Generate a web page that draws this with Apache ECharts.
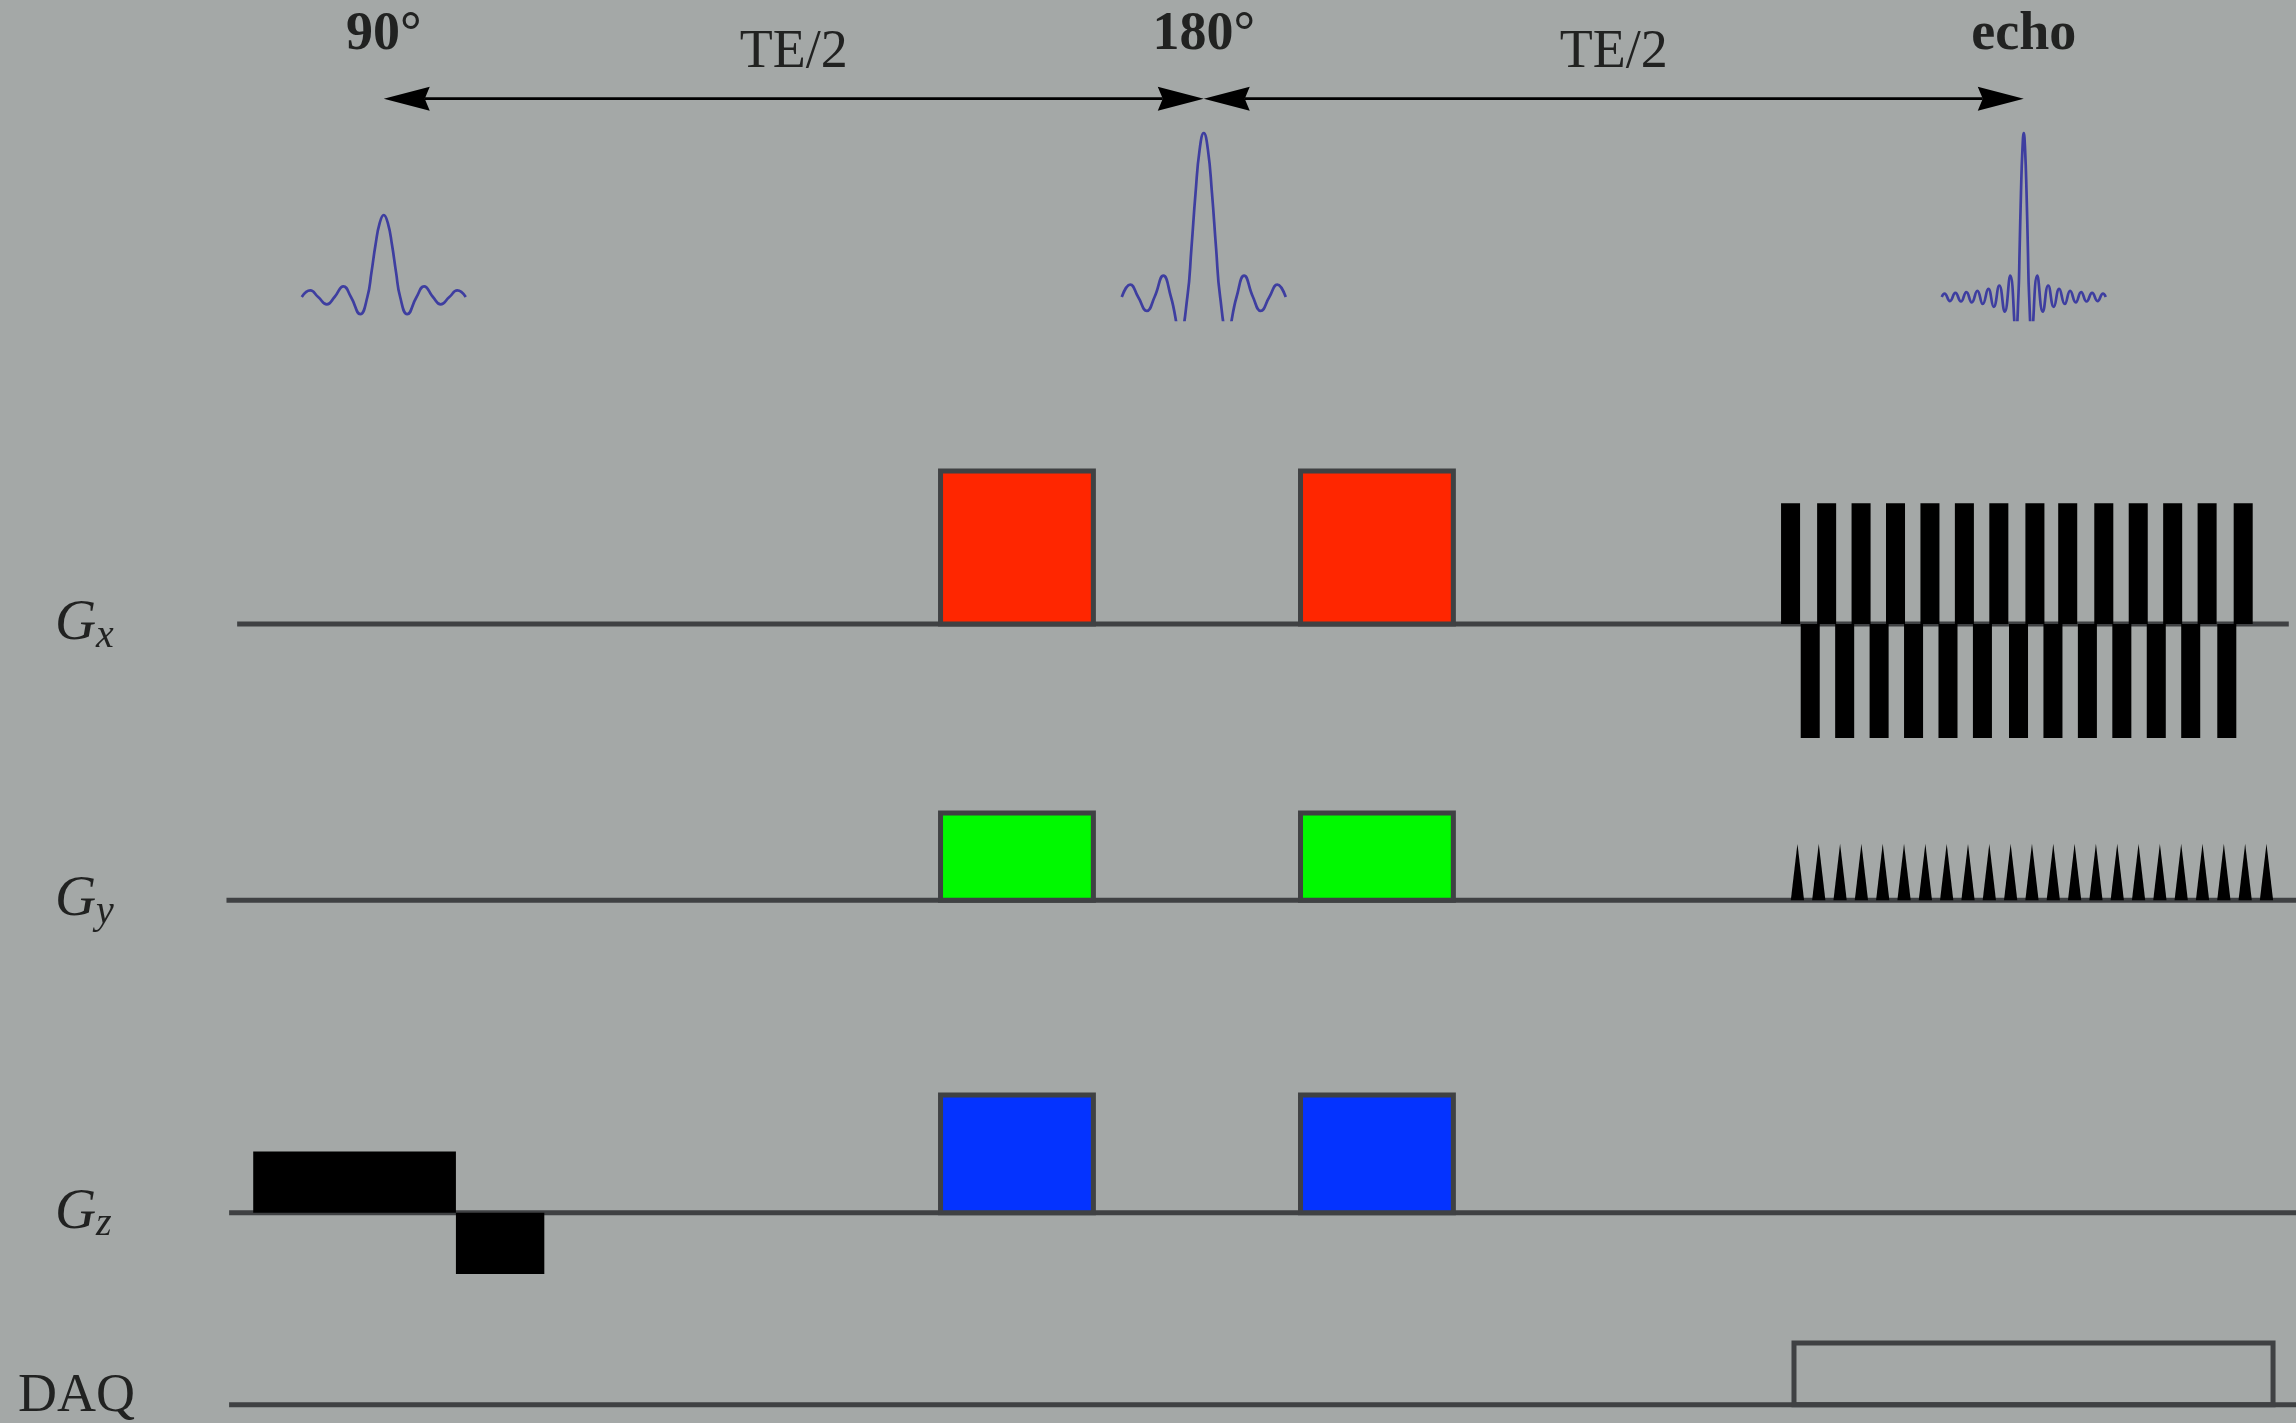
<!DOCTYPE html>
<html>
<head>
<meta charset="utf-8">
<script src="https://cdn.jsdelivr.net/npm/echarts@6/dist/echarts.min.js"></script>
<style>
  html, body { margin: 0; padding: 0; background: #a4a8a7; }
  #chart { width: 2296px; height: 1423px; }
</style>
</head>
<body>
<div id="chart"></div>
<script>
// Spin-echo EPI pulse sequence. Time axis in ms, 90° excitation at t = 0.
// Gradient amplitudes are relative (prephasing lobe = 1).

// ---- RF row ----
const pulseCenters = [0, 50, 100];
const pulseTitles = ['90°', '180°', 'echo'];
const intervalLabelTimes = [25, 75];
const intervalLabel = 'TE/2';
const timingArrows = [[0, 50], [50, 100]];

// waveform samples, time relative to pulse centre
const rf90Shape = [
  [-5.0, 0], [-4.48, 0.08], [-4.0, 0], [-3.47, -0.09], [-3.0, 0], [-2.46, 0.13], [-2.0, 0],
  [-1.43, -0.21], [-1.0, 0], [-0.75, 0.3], [-0.5, 0.64], [-0.25, 0.9], [0, 1.0],
  [0.25, 0.9], [0.5, 0.64], [0.75, 0.3], [1.0, 0], [1.43, -0.21], [2.0, 0], [2.46, 0.13],
  [3.0, 0], [3.47, -0.09], [4.0, 0], [4.48, 0.08], [5.0, 0]
];
const rf180Shape = [
  [-5.0, 0], [-4.48, 0.15], [-4.0, 0], [-3.47, -0.17], [-3.0, 0], [-2.46, 0.26], [-2.0, 0],
  [-1.43, -0.43], [-1.0, 0], [-0.75, 0.6], [-0.5, 1.27], [-0.25, 1.8], [0, 2.0],
  [0.25, 1.8], [0.5, 1.27], [0.75, 0.6], [1.0, 0], [1.43, -0.43], [2.0, 0], [2.46, 0.26],
  [3.0, 0], [3.47, -0.17], [4.0, 0], [4.48, 0.15], [5.0, 0]
];
const echoShape = [
  [-5.0, 0], [-4.83, 0.04], [-4.5, -0.05], [-4.17, 0.05], [-3.83, -0.055], [-3.5, 0.06],
  [-3.17, -0.065], [-2.83, 0.075], [-2.5, -0.085], [-2.16, 0.1], [-1.83, -0.12], [-1.49, 0.14],
  [-1.16, -0.18], [-0.82, 0.26], [-0.48, -0.43], [-0.33, 0], [-0.25, 0.6], [-0.17, 1.27],
  [-0.08, 1.8], [0, 2.0], [0.08, 1.8], [0.17, 1.27], [0.25, 0.6], [0.33, 0], [0.48, -0.43],
  [0.82, 0.26], [1.16, -0.18], [1.49, 0.14], [1.83, -0.12], [2.16, 0.1], [2.5, -0.085],
  [2.83, 0.075], [3.17, -0.065], [3.5, 0.06], [3.83, -0.055], [4.17, 0.05], [4.5, -0.05],
  [4.83, 0.04], [5.0, 0]
];

// ---- gradient rows: [start, end, amplitude] ----
const crusherTimes = [[33.95, 43.27], [55.9, 65.22]];
const gxCrusherAmp = 1.0;
const gyCrusherAmp = 0.57;
const gzCrusherAmp = 0.77;

const sliceSelect = [[-7.96, 4.4, 0.4], [4.4, 9.79, -0.4]];

const readoutPosStarts = [85.2, 87.4, 89.5, 91.6, 93.7, 95.8, 97.9, 100.1, 102.1, 104.3, 106.4, 108.5, 110.6, 112.8];
const readoutNegStarts = [86.4, 88.5, 90.6, 92.7, 94.8, 96.9, 99.1, 101.2, 103.3, 105.4, 107.5, 109.6, 111.8];
const readoutLobeDuration = 1.16;
const readoutPosAmp = 0.79;
const readoutNegAmp = -0.745;

const blipCenters = [86.2, 87.5, 88.8, 90.1, 91.4, 92.7, 94.0, 95.3, 96.6, 97.9, 99.2, 100.5,
  101.8, 103.1, 104.4, 105.7, 107.0, 108.3, 109.6, 110.9, 112.2, 113.5, 114.8];
const blipDuration = 0.81;
const blipAmp = 0.37;

const daqWindow = [85.99, 115.2, 1];

// baseline extents per row [start, end]
const baselines = {
  gx: [-8.94, 116.16],
  gy: [-9.59, 116.6],
  gz: [-9.43, 116.6],
  daq: [-9.43, 116.6]
};

// row titles: gradient symbol and its subscript
const gradientRowGrids = [1, 2, 3];
const gradientSymbol = 'G';
const gradientSubscripts = ['x', 'y', 'z'];
const symbolTime = -20.05;
const subscriptTime = -17.55;
const daqTitle = 'DAQ';
const daqTitleTime = -22.3;

// ---- layout ----
const T_MIN = -23.4, T_MAX = 116.6;
const LINE_COLOR = '#3f4143';
const SERIF = '"Liberation Serif", "DejaVu Serif", serif';

// place a grid so that value 0 lands on a given pixel row
function rowGrid(zeroPx, pxPerUnit, min, max) {
  return { left: 0, right: 0, top: zeroPx - max * pxPerUnit, height: (max - min) * pxPerUnit };
}
const rows = [
  { g: rowGrid(297, 82, -0.28, 3.6), min: -0.28, max: 3.6 },
  { g: rowGrid(624, 153, -0.9, 1.2), min: -0.9, max: 1.2 },
  { g: rowGrid(900.3, 153, -0.3, 0.8), min: -0.3, max: 0.8 },
  { g: rowGrid(1212.7, 153, -0.6, 0.9), min: -0.6, max: 0.9 },
  { g: rowGrid(1404.7, 61.7, -0.2, 1.3), min: -0.2, max: 1.3 }
];

const TITLE_LEVEL = 3.2;
const INTERVAL_LEVEL = 2.976;
const ARROW_LEVEL = 2.418;

function rectRender(fill, stroke, lineWidth) {
  return function (params, api) {
    const a = api.coord([api.value(0), 0]);
    const b = api.coord([api.value(1), api.value(2)]);
    return {
      type: 'rect',
      shape: {
        x: Math.min(a[0], b[0]), y: Math.min(a[1], b[1]),
        width: Math.abs(b[0] - a[0]), height: Math.abs(b[1] - a[1])
      },
      style: { fill: fill, stroke: stroke, lineWidth: lineWidth }
    };
  };
}

function boxSeries(gridIndex, data, fill, stroke, lineWidth, z) {
  return {
    type: 'custom', xAxisIndex: gridIndex, yAxisIndex: gridIndex,
    encode: { x: [0, 1], y: 2 }, z: z || 3,
    renderItem: rectRender(fill, stroke, lineWidth),
    data: data
  };
}

function baselineSeries(gridIndex, ext) {
  return {
    type: 'line', xAxisIndex: gridIndex, yAxisIndex: gridIndex, z: 1,
    showSymbol: false, symbol: 'none',
    lineStyle: { color: LINE_COLOR, width: 5, cap: 'butt' },
    data: [[ext[0], 0], [ext[1], 0]]
  };
}

function rfSeries(shape, center) {
  return {
    type: 'line', xAxisIndex: 0, yAxisIndex: 0, z: 2,
    showSymbol: false, symbol: 'none', smooth: 0.5, clip: true,
    lineStyle: { color: '#3e3ea0', width: 2.7 },
    data: shape.map(p => [p[0] + center, p[1]])
  };
}

function textSeries(gridIndex, data, label) {
  return {
    type: 'scatter', xAxisIndex: gridIndex, yAxisIndex: gridIndex, symbolSize: 0, z: 5,
    data: data,
    label: Object.assign({ show: true, formatter: p => p.value[2], color: '#000', fontFamily: SERIF }, label)
  };
}

const readoutData = readoutPosStarts.map(s => [s, s + readoutLobeDuration, readoutPosAmp])
  .concat(readoutNegStarts.map(s => [s, s + readoutLobeDuration, readoutNegAmp]));

const series = [
  // RF waveforms
  rfSeries(rf90Shape, pulseCenters[0]),
  rfSeries(rf180Shape, pulseCenters[1]),
  rfSeries(echoShape, pulseCenters[2]),
  // TE/2 timing arrows
  {
    type: 'custom', xAxisIndex: 0, yAxisIndex: 0, encode: { x: [0, 1], y: 2 }, z: 4,
    data: timingArrows.map(a => [a[0], a[1], ARROW_LEVEL]),
    renderItem: function (params, api) {
      const p0 = api.coord([api.value(0), api.value(2)]);
      const p1 = api.coord([api.value(1), api.value(2)]);
      const L = 46, H = 12, N = 5;
      return {
        type: 'group',
        children: [
          { type: 'line', shape: { x1: p0[0] + L - N, y1: p0[1], x2: p1[0] - L + N, y2: p1[1] },
            style: { stroke: '#000', lineWidth: 2.8 } },
          { type: 'polygon', shape: { points: [[p0[0], p0[1]], [p0[0] + L, p0[1] - H], [p0[0] + L - N, p0[1]], [p0[0] + L, p0[1] + H]] },
            style: { fill: '#000' } },
          { type: 'polygon', shape: { points: [[p1[0], p1[1]], [p1[0] - L, p1[1] - H], [p1[0] - L + N, p1[1]], [p1[0] - L, p1[1] + H]] },
            style: { fill: '#000' } }
        ]
      };
    }
  },
  // pulse titles and interval labels
  textSeries(0, pulseCenters.map((t, i) => [t, TITLE_LEVEL, pulseTitles[i]]),
    { position: 'inside', fontWeight: 'bold', fontSize: 54 }),
  textSeries(0, intervalLabelTimes.map(t => [t, INTERVAL_LEVEL, intervalLabel]),
    { position: 'inside', fontWeight: 'normal', fontSize: 54 }),

  // baselines
  baselineSeries(1, baselines.gx),
  baselineSeries(2, baselines.gy),
  baselineSeries(3, baselines.gz),
  baselineSeries(4, baselines.daq),

  // Gx: crusher lobes and EPI readout train
  boxSeries(1, crusherTimes.map(c => [c[0], c[1], gxCrusherAmp]), '#ff2600', LINE_COLOR, 5),
  boxSeries(1, readoutData, '#000', null, 0),

  // Gy: crusher lobes and phase-encode blips
  boxSeries(2, crusherTimes.map(c => [c[0], c[1], gyCrusherAmp]), '#00f900', LINE_COLOR, 5),
  {
    type: 'custom', xAxisIndex: 2, yAxisIndex: 2, encode: { x: 0, y: 1 }, z: 3,
    data: blipCenters.map(t => [t, blipAmp]),
    renderItem: function (params, api) {
      const t = api.value(0);
      const a = api.coord([t - blipDuration / 2, 0]);
      const m = api.coord([t, api.value(1)]);
      const b = api.coord([t + blipDuration / 2, 0]);
      return { type: 'polygon', shape: { points: [a, m, b] }, style: { fill: '#000' } };
    }
  },

  // Gz: slice select with rephaser, crusher lobes
  boxSeries(3, sliceSelect, '#000', null, 0),
  boxSeries(3, crusherTimes.map(c => [c[0], c[1], gzCrusherAmp]), '#0433ff', LINE_COLOR, 5),

  // acquisition window
  boxSeries(4, [daqWindow], 'rgba(0,0,0,0)', LINE_COLOR, 5)
];

// row titles
gradientRowGrids.forEach((g, i) => {
  series.push(textSeries(g, [[symbolTime, 0, gradientSymbol]],
    { position: 'right', distance: 0, offset: [0, 0], fontStyle: 'italic', fontSize: 57 }));
  series.push(textSeries(g, [[subscriptTime, 0, gradientSubscripts[i]]],
    { position: 'right', distance: 0, offset: [0, 12], fontStyle: 'italic', fontSize: 40 }));
});
series.push(textSeries(4, [[daqTitleTime, 0, daqTitle]],
  { position: 'right', distance: 0, offset: [0, -8], fontSize: 54 }));

const option = {
  backgroundColor: '#a4a8a7',
  animation: false,
  grid: rows.map(r => r.g),
  xAxis: rows.map((r, i) => ({ type: 'value', gridIndex: i, min: T_MIN, max: T_MAX, show: false })),
  yAxis: rows.map((r, i) => ({ type: 'value', gridIndex: i, min: r.min, max: r.max, show: false })),
  series: series
};

const chart = echarts.init(document.getElementById('chart'), null, { renderer: 'canvas' });
chart.setOption(option);
</script>
</body>
</html>
